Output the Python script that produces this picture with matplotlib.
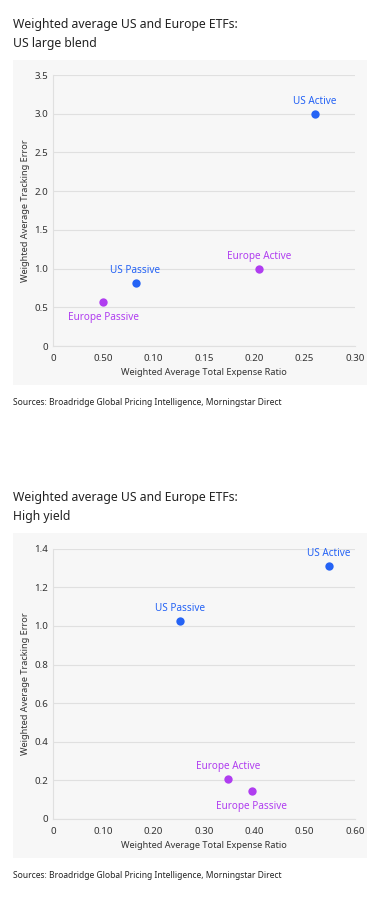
import matplotlib.pyplot as plt
from matplotlib.patches import Rectangle

# Data
names = ['US Active', 'US Passive', 'Europe Active', 'Europe Passive']
groups = ['US', 'US', 'Europe', 'Europe']

blend_ter = [0.26, 0.082, 0.205, 0.05]
blend_te = [3.0, 0.82, 1.0, 0.57]

hy_ter = [0.548, 0.252, 0.348, 0.395]
hy_te = [1.31, 1.025, 0.205, 0.145]

blend_xticks = [0, 0.05, 0.10, 0.15, 0.20, 0.25, 0.30]
blend_xlabels = ['0', '0.50', '0.10', '0.15', '0.20', '0.25', '0.30']
blend_yticks = [0, 0.5, 1.0, 1.5, 2.0, 2.5, 3.0, 3.5]
blend_ylabels = ['0', '0.5', '1.0', '1.5', '2.0', '2.5', '3.0', '3.5']

hy_xticks = [0, 0.1, 0.2, 0.3, 0.4, 0.5, 0.6]
hy_xlabels = ['0', '0.10', '0.20', '0.30', '0.40', '0.50', '0.60']
hy_yticks = [0, 0.2, 0.4, 0.6, 0.8, 1.0, 1.2, 1.4]
hy_ylabels = ['0', '0.2', '0.4', '0.6', '0.8', '1.0', '1.2', '1.4']

# label above (+1) or below (-1) the dot
blend_pos = [1, 1, 1, -1]
hy_pos = [1, 1, 1, -1]

colors = {'US': '#2563F5', 'Europe': '#B03EF0'}
panel = '#F7F7F7'
grid = '#E0E0E0'
text = '#333333'

plt.rcParams['font.family'] = ['Noto Sans', 'DejaVu Sans']

fig = plt.figure(figsize=(3.82, 8.98), dpi=100)
W, H = 382.0, 898.0


def draw(ax_box, panel_box, title_y, src_y, xs, ys, xt, xl, yt, yl, xmax, ymax, pos, title2):
    x0, y0, x1, y1 = panel_box
    fig.patches.append(Rectangle((x0 / W, 1 - y1 / H), (x1 - x0) / W, (y1 - y0) / H,
                                 transform=fig.transFigure, facecolor=panel,
                                 edgecolor='none', zorder=-10))
    l, t, r, b = ax_box
    ax = fig.add_axes([l / W, 1 - b / H, (r - l) / W, (b - t) / H])
    ax.set_facecolor(panel)
    ax.set_xlim(0, xmax)
    ax.set_ylim(0, ymax)
    ax.set_xticks(xt)
    ax.set_xticklabels(xl)
    ax.set_yticks(yt)
    ax.set_yticklabels(yl)
    ax.tick_params(length=0, labelsize=7, colors=text)
    ax.tick_params(axis='y', pad=3.5)
    ax.tick_params(axis='x', pad=5.5)
    ax.grid(axis='y', color=grid, linewidth=0.8)
    ax.set_axisbelow(True)
    for s in ['top', 'right']:
        ax.spines[s].set_visible(False)
    for s in ['left', 'bottom']:
        ax.spines[s].set_color(grid)
        ax.spines[s].set_linewidth(0.8)
    for n, g, x, y, p in zip(names, groups, xs, ys, pos):
        ax.scatter(x, y, s=36, color=colors[g], zorder=3, linewidths=0, clip_on=False)
        ax.annotate(n, (x, y), xytext=(0, (5 if p > 0 else 7.5) * p), textcoords='offset points',
                    ha='center', va='bottom' if p > 0 else 'top',
                    color=colors[g], fontsize=7.2)
    ax.set_xlabel('Weighted Average Total Expense Ratio', fontsize=6.6, color=text, labelpad=4)
    ax.set_ylabel('Weighted Average Tracking Error', fontsize=6.6, color=text, labelpad=3)
    fig.text(13 / W, 1 - title_y / H, 'Weighted average US and Europe ETFs:\n' + title2,
             fontsize=8.8, color='#222222', va='center', linespacing=1.55)
    fig.text(13 / W, 1 - src_y / H, 'Sources: Broadridge Global Pricing Intelligence, Morningstar Direct',
             fontsize=6.1, color='#222222', va='center')
    return ax


draw((53, 75, 355, 346), (13, 60, 367, 385), 34, 402,
     blend_ter, blend_te, blend_xticks, blend_xlabels, blend_yticks, blend_ylabels,
     0.30, 3.5, blend_pos, 'US large blend')

draw((53, 548.7, 355, 819), (13, 533, 367, 858), 507, 876,
     hy_ter, hy_te, hy_xticks, hy_xlabels, hy_yticks, hy_ylabels,
     0.60, 1.4, hy_pos, 'High yield')

fig.savefig('out.png', dpi=100)
